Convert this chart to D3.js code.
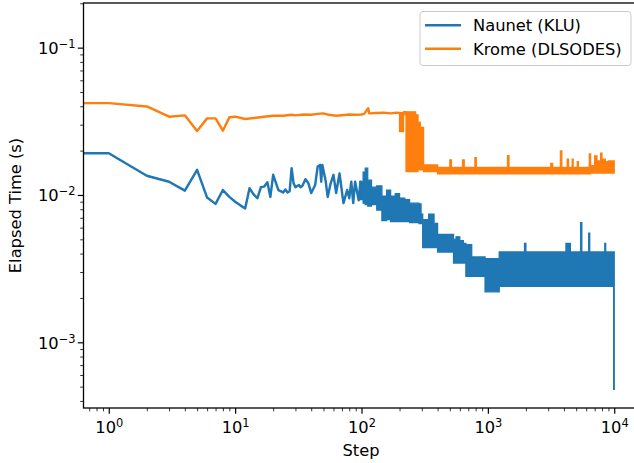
<!DOCTYPE html>
<html><head><meta charset="utf-8">
<script src="https://cdn.jsdelivr.net/npm/d3@7"></script>
<style>body{margin:0;background:#fff}svg{display:block}text{font-family:"DejaVu Sans",sans-serif;fill:#000}</style>
</head><body>
<svg id="chart" width="634" height="463"></svg>
<script>
// ---- data ----
const naunetSteps = [0,1,2,3,4,5,6,7,8,9,10,11,12,13,14,15,16,17,18,19,20,22,24,25,26,27,28,29,30,32,33,34,36,38,40,43,45,47,48,49,52,54,57,60,63,67,72,77,80,83,86,89,95,98];
const naunetTime = [0.0192,0.0192,0.0135,0.0123,0.0107,0.0148,0.0096,0.0087,0.0108,0.0097,0.0090,0.0085,0.0081,0.0111,0.0101,0.0095,0.0113,0.0114,0.0122,0.0097,0.0137,0.0108,0.0104,0.0109,0.0104,0.0106,0.0152,0.0120,0.0113,0.0117,0.0113,0.0115,0.0128,0.0120,0.0103,0.0117,0.0156,0.0160,0.0123,0.0160,0.0125,0.0097,0.0120,0.0137,0.0103,0.0140,0.0088,0.0108,0.0095,0.0123,0.0088,0.0123,0.0092,0.0123];
// dense part: per-step min / max envelope of the oscillating series
const naunetBandSteps = [98,103,107,112,120,132,145,158,170,185,200,220,240,285,296,305,340,375,400,535,560,600,640,670,745,950,1230,1950,2000,4150,4500,5420,5540,6280,6400,8420,8560,9900,10000];
const naunetBandLow = [0.0093,0.0088,0.0086,0.0084,0.0086,0.0079,0.0067,0.0068,0.0066,0.0066,0.0066,0.0066,0.0065,0.0064,0.0064,0.0044,0.0044,0.0044,0.0041,0.00345,0.00345,0.00345,0.00345,0.0028,0.0028,0.0022,0.0024,0.0024,0.0024,0.0024,0.0024,0.0024,0.0024,0.0024,0.0024,0.0024,0.0024,0.00048,0.00048];
const naunetBandHigh = [0.0123,0.0143,0.0152,0.0126,0.0113,0.0115,0.0098,0.0108,0.0098,0.0102,0.0095,0.0093,0.0088,0.0087,0.0074,0.0068,0.0074,0.0064,0.0054,0.0050,0.0052,0.0049,0.0047,0.0046,0.0038,0.0037,0.0041,0.0047,0.0041,0.0047,0.0041,0.0065,0.0041,0.0055,0.0041,0.0047,0.0041,0.0041,0.0041];

const kromeSteps = [0,1,2,3,4,5,6,7,8,9,10,12,17,20,24,28,30,35,40,45,50,55,63,70,80,90,100,105,113,115,130,150,170,190,200];
const kromeTime = [0.0420,0.0420,0.0399,0.0340,0.0347,0.0272,0.0331,0.0331,0.0273,0.0337,0.0340,0.0328,0.0340,0.0345,0.0345,0.0350,0.0347,0.0352,0.0350,0.0355,0.0358,0.0350,0.0345,0.0348,0.0352,0.0350,0.0352,0.0355,0.0388,0.0358,0.0360,0.0362,0.0358,0.0362,0.0360];
const kromeBandSteps = [200,215,225,268,280,292,310,400,500,515,630,650,790,810,1430,1470,3150,3250,3750,3850,4250,4350,4650,4730,5100,5200,6350,6500,7000,7300,7800,8000,8500,9000,10000];
const kromeBandLow = [0.0269,0.0350,0.0144,0.0144,0.0148,0.0148,0.0144,0.0139,0.0139,0.0139,0.0139,0.0139,0.0139,0.0139,0.0139,0.0139,0.0139,0.0139,0.0139,0.0139,0.0139,0.0139,0.0139,0.0139,0.0139,0.0139,0.0139,0.0141,0.0141,0.0141,0.0141,0.0141,0.0141,0.0141,0.0141];
const kromeBandHigh = [0.0362,0.0368,0.0367,0.0350,0.0312,0.0288,0.0160,0.0154,0.0173,0.0154,0.0173,0.0154,0.0179,0.0154,0.0185,0.0154,0.0164,0.0154,0.0199,0.0154,0.0175,0.0154,0.0175,0.0154,0.0168,0.0154,0.0190,0.0158,0.0184,0.0170,0.0192,0.0175,0.0168,0.0170,0.0170];

const seriesNames = ["Naunet (KLU)", "Krome (DLSODES)"];
const seriesColors = ["#1f77b4", "#ff7f0e"];
const xMajor = [1, 10, 100, 1000, 10000];
const xMajorExp = ["0", "1", "2", "3", "4"];
const yMajor = [0.001, 0.01, 0.1];
const yMajorExp = ["\u22123", "\u22122", "\u22121"];

// ---- layout ----
const L = 83.5, R = 639.5, T = 3, B = 408;
const FS = 16.3;
const svg = d3.select("#chart");
const x = d3.scaleLog().domain([Math.pow(10, -0.2), Math.pow(10, 4.2)]).range([L, R]).clamp(true);
const y = d3.scaleLog().domain([Math.pow(10, -3.446), Math.pow(10, -0.697)]).range([B, T]);

svg.append("defs").append("clipPath").attr("id", "clip")
  .append("rect").attr("x", L).attr("y", T).attr("width", R - L).attr("height", B - T);

const plot = svg.append("g").attr("clip-path", "url(#clip)");

function drawSeries(steps, vals, bSteps, bLow, bHigh, color) {
  const pts = steps.map((s, i) => ({s, v: vals[i]}));
  const band = bSteps.map((s, i) => ({s, lo: bLow[i], hi: bHigh[i]}));
  plot.append("path").datum(band)
    .attr("d", d3.area().curve(d3.curveStepAfter).x(d => x(d.s)).y0(d => y(d.lo)).y1(d => y(d.hi)))
    .attr("fill", color).attr("stroke", color).attr("stroke-width", 1.3).attr("stroke-linejoin", "miter");
  plot.append("path").datum(pts)
    .attr("d", d3.line().x(d => x(d.s)).y(d => y(d.v)))
    .attr("fill", "none").attr("stroke", color).attr("stroke-width", 2.45)
    .attr("stroke-linejoin", "round").attr("stroke-linecap", "square");
}
drawSeries(naunetSteps, naunetTime, naunetBandSteps, naunetBandLow, naunetBandHigh, seriesColors[0]);
drawSeries(kromeSteps, kromeTime, kromeBandSteps, kromeBandLow, kromeBandHigh, seriesColors[1]);

// ---- axes ----
function minors(scale, kFrom, kTo) {
  const out = [];
  const [a, b] = scale.domain();
  for (let k = kFrom; k <= kTo; k++) for (let m = 2; m <= 9; m++) {
    const v = m * Math.pow(10, k);
    if (v >= a && v <= b) out.push(v);
  }
  return out;
}
const xAxisMinor = d3.axisBottom(x).tickValues(minors(x, -1, 4)).tickSizeInner(3.3).tickSizeOuter(0).tickFormat(() => "");
const xAxisMajor = d3.axisBottom(x).tickValues(xMajor).tickSizeInner(5.7).tickSizeOuter(0).tickFormat(() => "");
const yAxisMinor = d3.axisLeft(y).tickValues(minors(y, -4, -1)).tickSizeInner(3.3).tickSizeOuter(0).tickFormat(() => "");
const yAxisMajor = d3.axisLeft(y).tickValues(yMajor).tickSizeInner(5.7).tickSizeOuter(0).tickFormat(() => "");

function styleAxis(g, w) {
  g.select(".domain").remove();
  g.selectAll(".tick line").attr("stroke", "#000").attr("stroke-width", w);
}
svg.append("g").attr("transform", `translate(0,${B})`).call(xAxisMinor).call(g => styleAxis(g, 0.8));
const gx = svg.append("g").attr("transform", `translate(0,${B})`).call(xAxisMajor).call(g => styleAxis(g, 1.2));
svg.append("g").attr("transform", `translate(${L},0)`).call(yAxisMinor).call(g => styleAxis(g, 0.8));
const gy = svg.append("g").attr("transform", `translate(${L},0)`).call(yAxisMajor).call(g => styleAxis(g, 1.2));

function powLabel(t, exp) {
  t.append("tspan").text("10");
  t.append("tspan").attr("dy", -6).attr("font-size", FS * 0.7).text(exp);
}
gx.selectAll(".tick").each(function(d, i) {
  const t = d3.select(this).append("text").attr("y", 25.3).attr("text-anchor", "middle")
    .attr("font-size", FS).attr("fill", "#000");
  powLabel(t, xMajorExp[i]);
});
gy.selectAll(".tick").each(function(d, i) {
  const t = d3.select(this).append("text").attr("x", -8).attr("y", 5.8).attr("text-anchor", "end")
    .attr("font-size", FS).attr("fill", "#000");
  powLabel(t, yMajorExp[i]);
});

// spines (right one falls outside the cropped picture)
svg.append("rect").attr("x", L).attr("y", T).attr("width", R - L).attr("height", B - T)
  .attr("fill", "none").attr("stroke", "#000").attr("stroke-width", 1.3);

// axis titles
svg.append("text").attr("x", 361).attr("y", 456).attr("text-anchor", "middle").attr("font-size", FS).text("Step");
svg.append("text").attr("transform", "translate(21,205.5) rotate(-90)").attr("text-anchor", "middle")
  .attr("font-size", FS).text("Elapsed Time (s)");

// legend
const lg = svg.append("g");
lg.append("rect").attr("x", 420).attr("y", 11.5).attr("width", 211).attr("height", 54).attr("rx", 3)
  .attr("fill", "#fff").attr("fill-opacity", 0.8).attr("stroke", "#cccccc").attr("stroke-width", 1);
seriesNames.forEach((name, i) => {
  const cy = 25.3 + i * 23.5;
  lg.append("line").attr("x1", 425).attr("x2", 461).attr("y1", cy).attr("y2", cy)
    .attr("stroke", seriesColors[i]).attr("stroke-width", 2.45);
  lg.append("text").attr("x", 473).attr("y", cy + 6).attr("font-size", FS).text(name);
});
</script>
</body></html>
